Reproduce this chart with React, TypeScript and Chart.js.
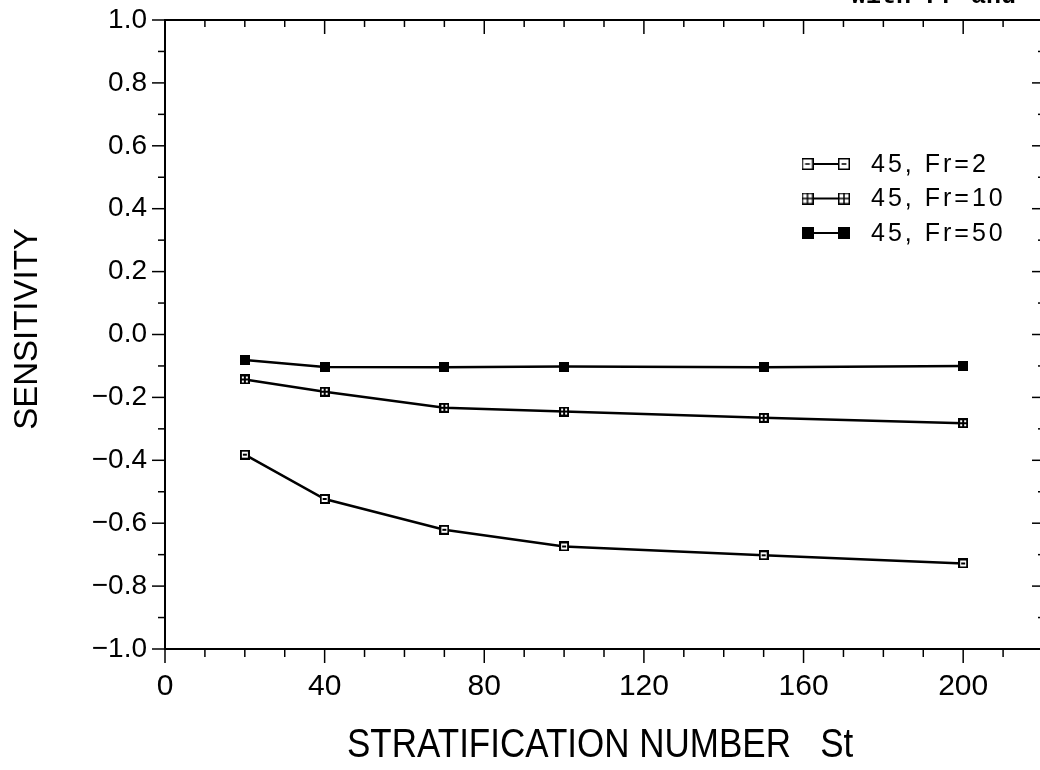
import React, { useEffect, useRef } from "react";
import { Chart, registerables } from "chart.js";

Chart.register(...registerables);

// ---- data ----
const stratificationNumbers = [20, 40, 70, 100, 150, 200];
const sensitivityFr2 = [-0.382, -0.523, -0.621, -0.674, -0.702, -0.728];
const sensitivityFr10 = [-0.143, -0.182, -0.233, -0.245, -0.265, -0.282];
const sensitivityFr50 = [-0.081, -0.103, -0.104, -0.102, -0.104, -0.1];
const seriesLabels = ["45, Fr=2", "45, Fr=10", "45, Fr=50"];
const markerKinds = ["open", "cross", "filled"];
const xTickValues = [0, 40, 80, 120, 160, 200];
const yTickValues = [1.0, 0.8, 0.6, 0.4, 0.2, 0.0, -0.2, -0.4, -0.6, -0.8, -1.0];
const xAxisTitle = "STRATIFICATION NUMBER   St";
const yAxisTitle = "SENSITIVITY";
const topCaptionFragment = "with Fr and";

const SANS = "'Liberation Sans', Arial, Helvetica, sans-serif";

function makeMarker(kind: string, size: number, lw: number) {
  const c = document.createElement("canvas");
  c.width = size;
  c.height = size;
  const g = c.getContext("2d")!;
  g.strokeStyle = "#000";
  g.fillStyle = "#000";
  g.lineWidth = lw;
  if (kind === "filled") {
    g.fillRect(0, 0, size, size);
  } else {
    g.fillStyle = "#fff";
    g.fillRect(0, 0, size, size);
    g.strokeRect(lw / 2, lw / 2, size - lw, size - lw);
    g.beginPath();
    if (kind === "cross") {
      g.moveTo(size / 2, 0);
      g.lineTo(size / 2, size);
      g.moveTo(0, size / 2);
      g.lineTo(size, size / 2);
    } else {
      g.moveTo(size * 0.3, size / 2);
      g.lineTo(size * 0.7, size / 2);
    }
    g.stroke();
  }
  return c;
}

function fmtY(v: number) {
  const val = Math.abs(v) < 1e-9 ? 0 : v;
  const s = Math.abs(val).toFixed(1);
  return val < 0 ? "\u2212" + s : s;
}

export default function App() {
  const ref = useRef<HTMLCanvasElement | null>(null);

  useEffect(() => {
    const canvas = ref.current!;
    const seriesValues = [sensitivityFr2, sensitivityFr10, sensitivityFr50];
    const dataMarkers = markerKinds.map((k) => makeMarker(k, 10, 2));
    const legendMarkers = markerKinds.map((k) => makeMarker(k, 12, 1.5));

    const decorPlugin = {
      id: "decor",
      afterDraw(chart: any) {
        const { ctx, chartArea: a, scales } = chart;
        const x = scales.x;
        const y = scales.y;
        const seg = (x1: number, y1: number, x2: number, y2: number) => {
          ctx.beginPath();
          ctx.moveTo(x1, y1);
          ctx.lineTo(x2, y2);
          ctx.stroke();
        };
        ctx.save();
        ctx.strokeStyle = "#000";
        ctx.lineWidth = 2;
        ctx.strokeRect(a.left, a.top, a.right - a.left, a.bottom - a.top);
        ctx.lineWidth = 1.5;
        for (let v = 0; v <= x.max + 1e-9; v += 10) {
          const px = x.getPixelForValue(v);
          const major = v % 40 === 0;
          seg(px, a.bottom, px, a.bottom + (major ? 14 : 8));
          seg(px, a.top, px, a.top + (major ? 14 : 7));
        }
        for (let i = -10; i <= 10; i++) {
          const py = y.getPixelForValue(i / 10);
          const major = i % 2 === 0;
          seg(a.left - (major ? 13 : 7), py, a.left, py);
          seg(a.right - (major ? 11 : 5), py, a.right, py);
        }

        // legend
        ctx.lineWidth = 2;
        ctx.fillStyle = "#000";
        ctx.font = "25px " + SANS;
        ctx.textBaseline = "middle";
        ctx.textAlign = "left";
        try {
          (ctx as any).letterSpacing = "3px";
        } catch (e) {}
        chart.data.datasets.forEach((ds: any, i: number) => {
          const ry = 164 + i * 34.5;
          const m1 = 807.5;
          const m2 = 844;
          seg(m1, ry, m2, ry);
          const mk = legendMarkers[i];
          ctx.drawImage(mk, m1 - mk.width / 2, ry - mk.height / 2);
          ctx.drawImage(mk, m2 - mk.width / 2, ry - mk.height / 2);
          ctx.fillText(ds.label, 871, ry + 1);
        });
        try {
          (ctx as any).letterSpacing = "0px";
        } catch (e) {}

        // y axis title
        ctx.save();
        ctx.translate(25, 329);
        ctx.rotate(-Math.PI / 2);
        ctx.font = "33px " + SANS;
        ctx.textAlign = "center";
        ctx.textBaseline = "alphabetic";
        ctx.fillText(yAxisTitle, 0, 12);
        ctx.restore();

        // x axis title
        ctx.save();
        ctx.translate(347, 757);
        ctx.scale(1, 1.14);
        ctx.font = "35px " + SANS;
        ctx.textAlign = "left";
        ctx.textBaseline = "alphabetic";
        ctx.fillText(xAxisTitle, 0, 0);
        ctx.restore();

        // cropped caption fragment at the top
        ctx.font = "bold 25px 'Liberation Mono', 'Courier New', monospace";
        ctx.textAlign = "left";
        ctx.textBaseline = "alphabetic";
        ctx.fillText(topCaptionFragment, 851, 3);
        ctx.restore();
      },
    };

    const chart = new Chart(canvas, {
      type: "line",
      data: {
        datasets: seriesValues.map((vals, i) => ({
          label: seriesLabels[i],
          data: stratificationNumbers.map((s, j) => ({ x: s, y: vals[j] })),
          borderColor: "#000",
          backgroundColor: "#000",
          borderWidth: 2.5,
          tension: 0,
          fill: false,
          pointStyle: dataMarkers[i] as any,
          pointRadius: 5,
        })),
      },
      options: {
        animation: false,
        responsive: false,
        devicePixelRatio: 1,
        layout: { padding: { top: 20, right: 17, left: 0, bottom: 0 } },
        plugins: {
          legend: { display: false },
          tooltip: { enabled: false },
          title: { display: false },
        },
        scales: {
          x: {
            type: "linear",
            min: 0,
            max: 220,
            afterBuildTicks: (s: any) => {
              s.ticks = xTickValues.map((v) => ({ value: v }));
            },
            afterFit: (s: any) => {
              s.height = 121;
              s.paddingLeft = 0;
              s.paddingRight = 0;
            },
            grid: { display: false, drawTicks: false },
            border: { display: false },
            ticks: {
              color: "#000",
              font: { family: SANS, size: 30 },
              padding: 20,
              maxRotation: 0,
              autoSkip: false,
              callback: (v: any) => String(v),
            },
          },
          y: {
            type: "linear",
            min: -1,
            max: 1,
            afterBuildTicks: (s: any) => {
              s.ticks = yTickValues.map((v) => ({ value: v }));
            },
            afterFit: (s: any) => {
              s.width = 165;
              s.paddingTop = 0;
              s.paddingBottom = 0;
            },
            grid: { display: false, drawTicks: false },
            border: { display: false },
            ticks: {
              color: "#000",
              font: { family: SANS, size: 28 },
              padding: 18,
              autoSkip: false,
              callback: (v: any) => fmtY(Number(v)),
            },
          },
        },
      },
      plugins: [decorPlugin],
    });
    return () => chart.destroy();
  }, []);

  return (
    <div
      style={{
        position: "fixed",
        left: 0,
        top: 0,
        width: 1040,
        height: 770,
        overflow: "hidden",
        background: "#fff",
      }}
    >
      <canvas ref={ref} width={1060} height={770} style={{ width: 1060, height: 770, display: "block" }} />
    </div>
  );
}
